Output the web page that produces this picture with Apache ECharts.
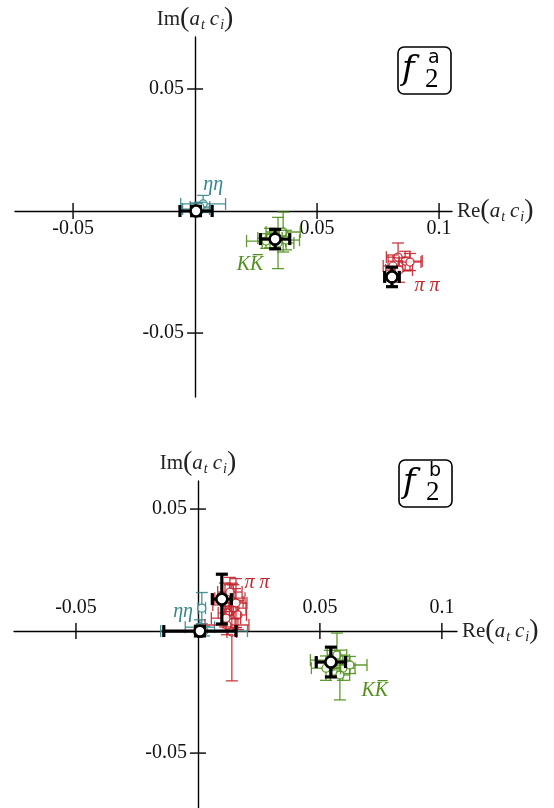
<!DOCTYPE html>
<html><head><meta charset="utf-8">
<script src="https://cdn.jsdelivr.net/npm/echarts@6/dist/echarts.min.js"></script>
<style>html,body{margin:0;padding:0;background:#fff}#c{width:554px;height:808px}</style>
</head><body><div id="c"></div>
<script>
// ---- tick labels ----
const xTicks = [-0.05, 0.05, 0.1];
const yTicks = [-0.05, 0.05];
// ---- panel a data: [Re, Im, errRe, errIm] ----
const aEtaMain = [[0.0004, 0.0, 0.0066, 0.0019]];
const aEtaFits = [[0.0033, 0.0029, 0.0092, 0.0035], [0.0004, 0.0008, 0.0055, 0.0025], [0.0020, 0.0016, 0.0040, 0.0020]];
const aKKMain = [[0.0328, -0.0115, 0.0060, 0.0040]];
const aKKFits = [[0.0361, -0.0086, 0.0070, 0.0082], [0.0307, -0.0111, 0.0050, 0.0040], [0.0340, -0.0131, 0.0065, 0.0105], [0.0291, -0.0123, 0.0080, 0.0030], [0.0373, -0.0119, 0.0055, 0.0040]];
const aPiMain = [[0.0807, -0.0270, 0.0030, 0.0040]];
const aPiFits = [[0.0861, -0.0205, 0.0070, 0.0040], [0.0832, -0.0189, 0.0048, 0.0058], [0.0881, -0.0209, 0.0045, 0.0035], [0.0811, -0.0225, 0.0040, 0.0045], [0.0836, -0.0242, 0.0055, 0.0050]];
// ---- panel b data ----
const bEtaMain = [[0.0008, 0.0, 0.0148, 0.0020]];
const bEtaFits = [[0.0016, 0.0094, 0.0015, 0.0064], [0.0025, 0.0, 0.0178, 0.0020], [0.0008, 0.0016, 0.0060, 0.0030]];
const bPiMain = [[0.0098, 0.0131, 0.0039, 0.0102]];
const bPiFits = [[0.0123, 0.0074, 0.0040, 0.0060], [0.0152, 0.0094, 0.0045, 0.0080], [0.0139, -0.0004, 0.0020, 0.0200], [0.0119, 0.0025, 0.0090, 0.0040], [0.0164, 0.0066, 0.0035, 0.0060], [0.0111, 0.0107, 0.0050, 0.0090], [0.0145, 0.0120, 0.0040, 0.0070], [0.0131, 0.0135, 0.0062, 0.0055], [0.0156, 0.0115, 0.0045, 0.0100], [0.0115, 0.0053, 0.0060, 0.0050], [0.0131, 0.0160, 0.0050, 0.0060]];
const bKKMain = [[0.0545, -0.0127, 0.0060, 0.0061]];
const bKKFits = [[0.0594, -0.0152, 0.0050, 0.0050], [0.0570, -0.0098, 0.0040, 0.0090], [0.0582, -0.0180, 0.0040, 0.0102], [0.0541, -0.0119, 0.0080, 0.0040], [0.0623, -0.0139, 0.0070, 0.0035], [0.0525, -0.0152, 0.0060, 0.0050]];

const TEAL = '#358587', GREEN = '#4f8f1a', RED = '#c4262f', BLACK = '#000';
const SERIF = '"Liberation Serif", "DejaVu Serif", serif';

function errRender(color, lw, r, cap, opacity, circleLw) {
  return function (params, api) {
    const x = api.value(0), y = api.value(1), ex = api.value(2), ey = api.value(3);
    const c = api.coord([x, y]);
    const l = api.coord([x - ex, y])[0], rr = api.coord([x + ex, y])[0];
    const t = api.coord([x, y + ey])[1], b = api.coord([x, y - ey])[1];
    const st = { stroke: color, lineWidth: lw, opacity: opacity };
    const ln = (x1, y1, x2, y2) => ({ type: 'line', shape: { x1, y1, x2, y2 }, style: st });
    return { type: 'group', children: [
      ln(l, c[1], rr, c[1]), ln(l, c[1] - cap, l, c[1] + cap), ln(rr, c[1] - cap, rr, c[1] + cap),
      ln(c[0], t, c[0], b), ln(c[0] - cap, t, c[0] + cap, t), ln(c[0] - cap, b, c[0] + cap, b),
      { type: 'circle', shape: { cx: c[0], cy: c[1], r: r }, style: { fill: '#fff', stroke: color, lineWidth: circleLw, opacity: opacity } }
    ] };
  };
}
function errSeries(data, color, main, gi) {
  return {
    type: 'custom', xAxisIndex: gi, yAxisIndex: gi, clip: false, silent: true, z: main ? 5 : 3,
    renderItem: main ? errRender(BLACK, 3.2, 5.5, 6, 1, 2.6) : errRender(color, 1.3, 4, 6, 0.9, 1.3),
    data: data
  };
}
// tick marks crossing the axes + their labels, placed through the axes' own scales
function tickSeries(gi, xLabelsAbove) {
  const d = xTicks.map(v => [v, 0, 0]).concat(yTicks.map(v => [0, v, 1]));
  return {
    type: 'custom', xAxisIndex: gi, yAxisIndex: gi, clip: false, silent: true, z: 2,
    renderItem: function (params, api) {
      const vx = api.value(0), vy = api.value(1);
      const c = api.coord([vx, vy]);
      const vert = api.value(2) === 0;
      const txt = String(vert ? vx : vy);
      const line = { type: 'line', shape: vert ? { x1: c[0], y1: c[1] - 8, x2: c[0], y2: c[1] + 8 } : { x1: c[0] - 8, y1: c[1], x2: c[0] + 8, y2: c[1] },
        style: { stroke: '#000', lineWidth: 1.4 } };
      const label = vert
        ? { type: 'text', x: c[0], y: xLabelsAbove ? c[1] - 13 : c[1] + 8,
            style: { text: txt, fontFamily: SERIF, fontSize: 20, fill: '#111', align: 'center', verticalAlign: xLabelsAbove ? 'bottom' : 'top' } }
        : { type: 'text', x: c[0] - 11, y: c[1],
            style: { text: txt, fontFamily: SERIF, fontSize: 20, fill: '#111', align: 'right', verticalAlign: 'middle' } };
      return { type: 'group', children: [line, label] };
    },
    data: d
  };
}
function labelSeries(gi, items) {
  return {
    type: 'custom', xAxisIndex: gi, yAxisIndex: gi, clip: false, silent: true, z: 6,
    renderItem: function (params, api) {
      const it = items[params.dataIndex];
      const c = api.coord([api.value(0), api.value(1)]);
      return { type: 'text', x: c[0], y: c[1], style: { text: it.text, fill: it.color, fontFamily: SERIF, fontStyle: 'italic', fontSize: 20, align: 'center', verticalAlign: 'middle' } };
    },
    data: items.map(it => it.at)
  };
}
const richName = {
  r: { fontFamily: SERIF, fontSize: 21, color: '#222' },
  p: { fontFamily: SERIF, fontSize: 28, color: '#222' },
  i: { fontFamily: SERIF, fontSize: 21, fontStyle: 'italic', color: '#222' },
  g: { fontFamily: SERIF, fontSize: 21, color: '#222', width: 5 },
  s: { fontFamily: SERIF, fontSize: 14, fontStyle: 'italic', color: '#222', padding: [12, 0, 0, 1] }
};
const xName = '{r|Re}{p|(}{i|a}{s|t}{g| }{i|c}{s|i}{p|)}';
const yName = '{r|Im}{p|(}{i|a}{s|t}{g| }{i|c}{s|i}{p|)}';
function xAxis(gi, min, max) {
  return {
    type: 'value', gridIndex: gi, min, max,
    axisLine: { onZero: true, lineStyle: { color: '#000', width: 1.4 } },
    axisTick: { show: false }, splitLine: { show: false }, axisLabel: { show: false },
    name: xName, nameLocation: 'end', nameGap: 5, nameTextStyle: { rich: richName, align: 'left', verticalAlign: 'middle' }
  };
}
function yAxis(gi, min, max) {
  return {
    type: 'value', gridIndex: gi, min, max,
    axisLine: { onZero: true, lineStyle: { color: '#000', width: 1.4 } },
    axisTick: { show: false }, splitLine: { show: false }, axisLabel: { show: false },
    name: yName, nameLocation: 'end', nameGap: 4, nameTextStyle: { rich: richName, align: 'center', verticalAlign: 'bottom' }
  };
}
function boxLabel(x, y, sup) {
  return { type: 'group', x: x, y: y, children: [
    { type: 'rect', shape: { x: 0, y: 0, width: 53, height: 47, r: 6 }, style: { fill: '#fff', stroke: '#000', lineWidth: 1.6 } },
    { type: 'text', x: 4, y: 6, style: { text: 'f', fontFamily: '"DejaVu Serif", serif', fontStyle: 'italic', fontSize: 34, fill: '#000' } },
    { type: 'text', x: 30, y: 2, style: { text: sup, fontFamily: '"DejaVu Sans", sans-serif', fontSize: 19, fill: '#000' } },
    { type: 'text', x: 27, y: 19, style: { text: '2', fontFamily: SERIF, fontSize: 27, fill: '#000' } }
  ] };
}

const chart = echarts.init(document.getElementById('c'), null, { renderer: 'canvas' });
chart.setOption({
  animation: false,
  backgroundColor: '#fff',
  grid: [
    { left: 15, top: 37, width: 437, height: 360, outerBoundsMode: 'none', containLabel: false },
    { left: 14, top: 481, width: 443, height: 327, outerBoundsMode: 'none', containLabel: false }
  ],
  xAxis: [xAxis(0, -0.0738, 0.1053), xAxis(1, -0.0754, 0.1062)],
  yAxis: [yAxis(0, -0.0762, 0.0713), yAxis(1, -0.0725, 0.0615)],
  graphic: [boxLabel(398, 47, 'a'), boxLabel(399, 460, 'b')],
  series: [
    tickSeries(0, false), tickSeries(1, true),
    errSeries(aEtaFits, TEAL, false, 0), errSeries(aKKFits, GREEN, false, 0), errSeries(aPiFits, RED, false, 0),
    errSeries(aEtaMain, TEAL, true, 0), errSeries(aKKMain, GREEN, true, 0), errSeries(aPiMain, RED, true, 0),
    errSeries(bEtaFits, TEAL, false, 1), errSeries(bKKFits, GREEN, false, 1), errSeries(bPiFits, RED, false, 1),
    errSeries(bEtaMain, TEAL, true, 1), errSeries(bKKMain, GREEN, true, 1), errSeries(bPiMain, RED, true, 1),
    labelSeries(0, [
      { text: 'ηη', color: TEAL, at: [0.0074, 0.0107] },
      { text: 'KK\u0305', color: GREEN, at: [0.0225, -0.0221] },
      { text: 'π π', color: RED, at: [0.0951, -0.0307] }
    ]),
    labelSeries(1, [
      { text: 'ηη', color: TEAL, at: [-0.0061, 0.0078] },
      { text: 'π π', color: RED, at: [0.0242, 0.0197] },
      { text: 'KK\u0305', color: GREEN, at: [0.0725, -0.0246] }
    ])
  ]
});
</script>
</body></html>
